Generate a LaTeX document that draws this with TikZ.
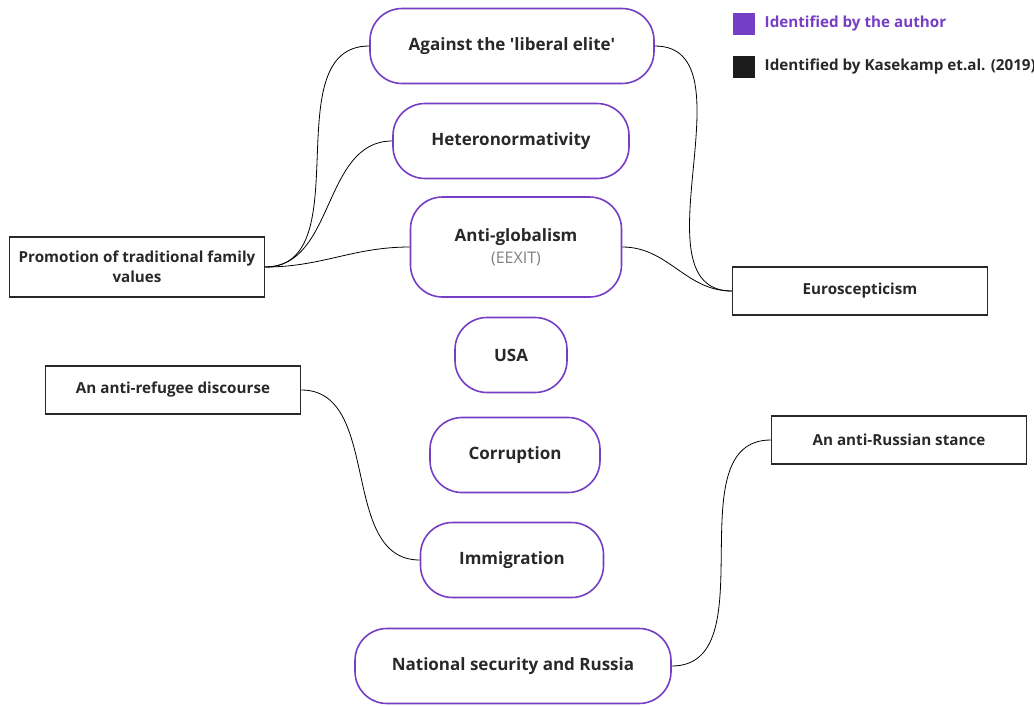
\documentclass[tikz,border=0pt]{standalone}
\usepackage{fontspec}
\setmainfont{Open Sans}
\usepackage{tikz}
\usetikzlibrary{positioning,calc}
\definecolor{authorpurple}{RGB}{118,62,196}
\definecolor{boxgray}{RGB}{40,40,40}

\begin{document}
\begin{tikzpicture}[x=1pt,y=-1pt,
    theme/.style={draw=authorpurple, line width=1.6pt, rounded corners=32pt, minimum height=75pt, font=\bfseries\fontsize{17}{21}\selectfont, text=boxgray},
    source/.style={draw=boxgray, line width=1.5pt, minimum width=255pt, minimum height=48pt, font=\bfseries\fontsize{15.2}{20}\selectfont, text=boxgray, align=center},
    link/.style={black, line width=0.8pt},
    legendtext/.style={anchor=west, font=\bfseries\fontsize{15.2}{18}\selectfont}]
        \useasboundingbox (0,0) rectangle (1034,705);

        % Themes identified by the author
        \node[theme, minimum width=284pt] (elite) at (512,46) {Against the \textquotesingle liberal elite\textquotesingle};
        \node[theme, minimum width=236pt] (hetero) at (511,141) {Heteronormativity};
        \node[theme, minimum width=211pt, minimum height=100pt, align=center] (glob) at (516,247) {Anti-globalism\\[1pt] {\mdseries\fontsize{16}{20}\selectfont\color{gray}(EEXIT)}};
        \node[theme, minimum width=112pt] (usa) at (511,355) {USA};
        \node[theme, minimum width=170pt] (corrupt) at (515,455) {Corruption};
        \node[theme, minimum width=183pt] (immig) at (512,560) {Immigration};
        \node[theme, minimum width=316pt] (natsec) at (513,666) {National security and Russia};

        % Themes identified by Kasekamp et al.
        \node[source, minimum height=60pt] (family) at (137,267) {Promotion of traditional family\\values};
        \node[source] (euro) at (860,291) {Euroscepticism};
        \node[source] (refugee) at (173,390) {An anti-refugee discourse};
        \node[source] (russian) at (899,440) {An anti-Russian stance};

        % Legend
        \node[fill=authorpurple, minimum size=22pt, inner sep=0pt] (keyauthor) at (744,24) {};
        \node[legendtext, text=authorpurple, right=6pt of keyauthor] {Identified by the author};
        \node[fill=boxgray!70!black, minimum size=22pt, inner sep=0pt] (keykase) at (744,67) {};
        \node[legendtext, text=boxgray, right=6pt of keykase] {Identified by Kasekamp et.al. (2019)};

        % Links
        \foreach \t in {elite,hetero,glob}
        \draw[link] (family.east) to[out=0, in=180] (\t.west);
        \foreach \t in {elite,glob}
        \draw[link] (\t.east) to[out=0, in=180] (euro.west);
        \draw[link] (refugee.east) to[out=0, in=180] (immig.west);
        \draw[link] (natsec.east) to[out=0, in=180] (russian.west);
    \end{tikzpicture}
\end{document}
